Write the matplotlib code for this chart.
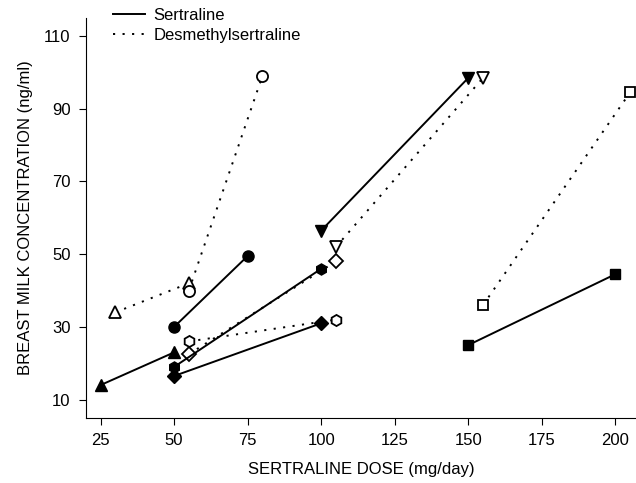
import matplotlib
matplotlib.use("Agg")
import matplotlib.pyplot as plt
from matplotlib.lines import Line2D

plt.rcParams['font.family'] = ['Liberation Sans', 'DejaVu Sans']

# each patient: dose pair, sertraline and desmethylsertraline levels
markers = ['^', 'o', 'h', 'D', 'v', 's']
sert_dose = [[25, 50], [50, 75], [50, 100], [50, 100], [100, 150], [150, 200]]
sert_conc = [[14, 23], [30, 49.5], [19, 46], [16.5, 31], [56.5, 98.5], [25, 44.5]]
desm_dose = [[30, 55], [55, 80], [55, 105], [55, 105], [105, 155], [155, 205]]
desm_conc = [[34, 42], [40, 99], [26, 32], [22.5, 48], [52, 98.5], [36, 94.5]]

DOT = (0, (1.1, 3.8))
LW = 1.4
sizes = {'^': 8, 'o': 8, 'h': 8, 'D': 7, 'v': 8, 's': 7.5}

fig = plt.figure(figsize=(6.36, 4.83), dpi=100)
ax = fig.add_axes([0.135, 0.135, 0.865, 0.828])

for m, x, y in zip(markers, desm_dose, desm_conc):
    ax.plot(x, y, ls=DOT, color='black', lw=LW, marker=m, ms=sizes[m],
            mfc='white', mec='black', mew=1.3)
for m, x, y in zip(markers, sert_dose, sert_conc):
    ax.plot(x, y, ls='-', color='black', lw=LW, marker=m, ms=sizes[m],
            mfc='black', mec='black')

ax.set_xlim(20, 207)
ax.set_ylim(5, 115)
ax.set_xticks([25, 50, 75, 100, 125, 150, 175, 200])
ax.set_yticks([10, 30, 50, 70, 90, 110])
ax.spines['top'].set_visible(False)
ax.spines['right'].set_visible(False)
ax.tick_params(direction='out', length=5, labelsize=12, pad=6)
ax.set_xlabel('SERTRALINE DOSE (mg/day)', fontsize=12, labelpad=10)
ax.set_ylabel('BREAST MILK CONCENTRATION (ng/ml)', fontsize=12, labelpad=8)

handles = [Line2D([], [], color='black', lw=LW, ls='-'),
           Line2D([], [], color='black', lw=LW, ls=DOT)]
ax.legend(handles, ['Sertraline', 'Desmethylsertraline'], loc='upper left',
          bbox_to_anchor=(0.05, 1.025), frameon=False, fontsize=12,
          handlelength=1.9, handletextpad=0.5, labelspacing=0.3,
          borderpad=0, borderaxespad=0)

fig.savefig('out.png', dpi=100)
